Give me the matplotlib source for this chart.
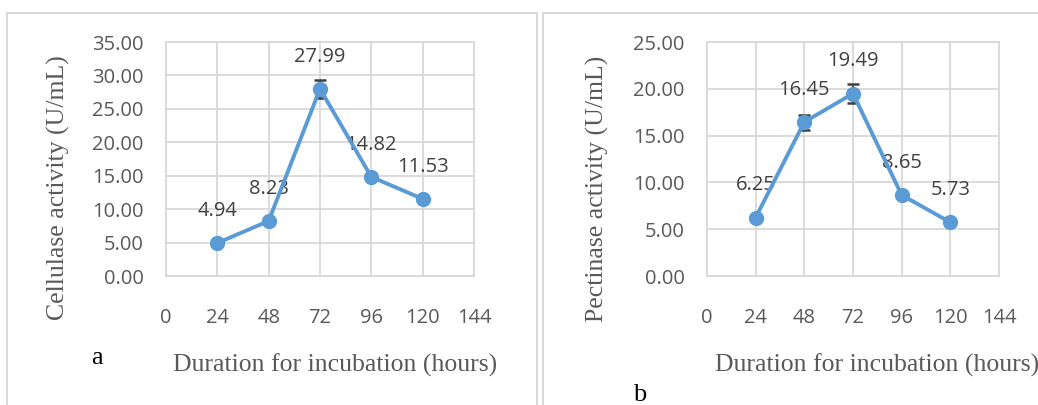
import matplotlib.pyplot as plt
from matplotlib.patches import Rectangle

# data
hours = [24, 48, 72, 96, 120]
cellulase = [4.94, 8.23, 27.99, 14.82, 11.53]
cellulase_err = [0.2, 0.3, 1.4, 0.5, 0.3]
pectinase = [6.25, 16.45, 19.49, 8.65, 5.73]
pectinase_err = [0.2, 0.8, 1.0, 0.3, 0.2]
xticks = [0, 24, 48, 72, 96, 120, 144]

W, H = 1038, 405
line_col = '#5b9bd5'
grid_col = '#d9d9d9'
tick_col = '#595959'
label_col = '#404040'
num_font = 'Open Sans'
serif = 'Liberation Serif'

fig = plt.figure(figsize=(W / 100, H / 100), dpi=100)

# outer chart borders
for x0, x1 in [(7, 537), (543, 1045)]:
    fig.patches.append(Rectangle((x0 / W, -0.1), (x1 - x0) / W, 1.1 - 13 / H,
                                 transform=fig.transFigure, fill=False,
                                 edgecolor=grid_col, linewidth=1.5))


def panel(rect, y, err, ymax, ystep, ylabel, ylab_xy, xlab_xy, letter, letter_pos):
    l, r, t, b = rect
    w, h = r - l, b - t
    ax = fig.add_axes([l / W, 1 - b / H, w / W, h / H])
    ax.set_xlim(0, 144)
    ax.set_ylim(0, ymax)
    ax.set_xticks(xticks)
    ax.set_yticks([i * ystep for i in range(int(ymax / ystep) + 1)])
    ax.set_yticklabels([f'{v:.2f}' for v in ax.get_yticks()])
    ax.grid(True, color=grid_col, linewidth=1.3)
    ax.set_axisbelow(True)
    for s in ax.spines.values():
        s.set_color(grid_col)
        s.set_linewidth(1.3)
    ax.tick_params(length=0, labelsize=14.5, colors=tick_col)
    ax.tick_params(axis='y', pad=16)
    ax.tick_params(axis='x', pad=23)
    for lab in ax.get_xticklabels() + ax.get_yticklabels():
        lab.set_family(num_font)
    ax.errorbar(hours, y, yerr=err, color=line_col, linewidth=2.8,
                marker='o', markersize=10, ecolor='#404040', elinewidth=1.3,
                capsize=4.5, capthick=1.8, zorder=3)
    for xv, yv in zip(hours, y):
        ax.annotate(f'{yv:.2f}', (xv, yv), xytext=(0, 16),
                    textcoords='offset points', ha='center', va='bottom',
                    fontsize=14.5, color=label_col, family=num_font)
    ax.set_ylabel(ylabel, fontsize=18.5, color=tick_col, family=serif)
    ax.yaxis.set_label_coords((ylab_xy[0] - l) / w, (b - ylab_xy[1]) / h)
    ax.yaxis.label.set_va('center')
    ax.set_xlabel('Duration for incubation (hours)', fontsize=18.5,
                  color=tick_col, family=serif)
    ax.xaxis.set_label_coords((xlab_xy[0] - l) / w, (b - xlab_xy[1]) / h)
    ax.xaxis.label.set_va('center')
    fig.text(letter_pos[0] / W, 1 - letter_pos[1] / H, letter, fontsize=19,
             family=serif, color='black', ha='center', va='center')
    return ax


panel((166, 474, 42, 276), cellulase, cellulase_err, 35, 5,
      'Cellulase activity (U/mL)', (58, 188), (335, 365), 'a', (97, 358))
panel((707, 999, 42, 276), pectinase, pectinase_err, 25, 5,
      'Pectinase activity (U/mL)', (597, 189), (877, 365), 'b', (640, 395))

fig.savefig('out.png', dpi=100)
